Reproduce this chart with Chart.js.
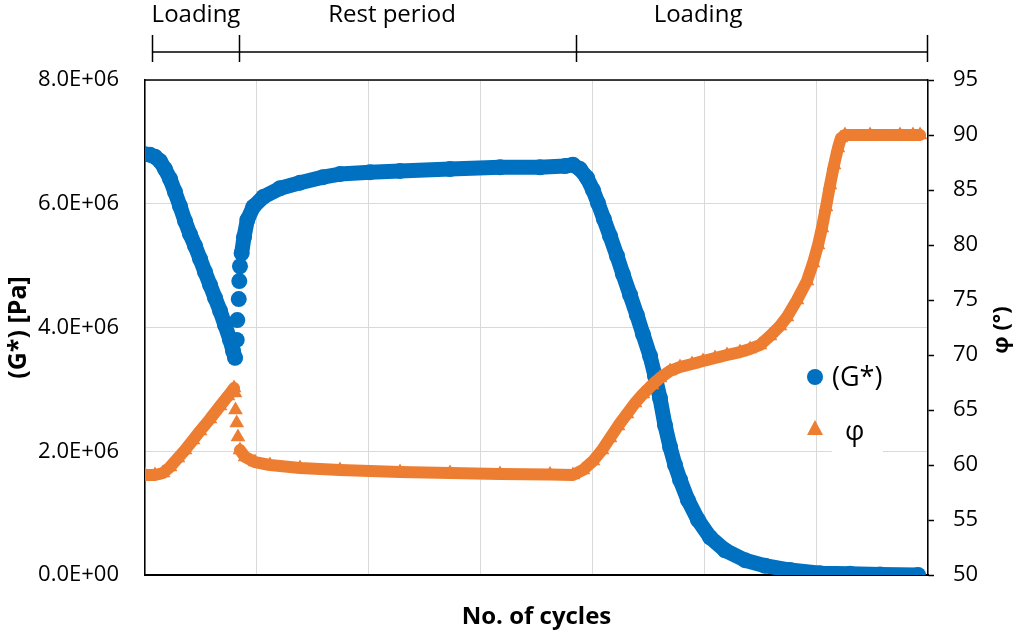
<!DOCTYPE html>
<html>
<head>
<meta charset="utf-8">
<script src="https://cdn.jsdelivr.net/npm/chart.js@4.4.1/dist/chart.umd.min.js"></script>
<style>
  html, body { margin: 0; padding: 0; background: #fff; }
</style>
</head>
<body>
<canvas id="rheoChart" width="1017" height="632"></canvas>
<script>
// (G*) en Pa por ciclo
const gCycles = [0, 4.5, 8.9, 13.4, 17.9, 22.4, 26.8, 31.3, 35.8, 40.2, 44.7, 49.2, 53.6, 58.1, 62.6, 67.1, 71.5, 76.0, 78.7, 80.5,
  82.0, 82.5, 83.8, 84.3, 84.9,
  86.4, 88.5, 91.5, 96.8, 105.8, 120.7, 138.6, 159.1, 174.3, 201.2, 228.0, 272.7, 317.4, 353.1, 375.5, 382.6,
  388.9, 395.1, 400.5, 405.0, 410.3, 415.7, 421.9, 427.3, 433.6, 439.8, 445.2, 451.5, 455.9, 460.4, 464.9, 469.4, 473.8, 478.3,
  485.4, 494.4, 505.1, 518.5, 536.4, 554.3, 576.6, 603.5, 630.3, 657.1, 691.1];
const gValues = [6.80e6, 6.79e6, 6.76e6, 6.69e6, 6.56e6, 6.40e6, 6.19e6, 5.96e6, 5.72e6, 5.51e6, 5.32e6, 5.11e6, 4.90e6, 4.69e6, 4.48e6, 4.27e6, 4.04e6, 3.80e6, 3.62e6, 3.51e6,
  3.80e6, 4.12e6, 4.46e6, 4.75e6, 4.99e6,
  5.20e6, 5.46e6, 5.74e6, 5.95e6, 6.11e6, 6.25e6, 6.34e6, 6.43e6, 6.48e6, 6.51e6, 6.53e6, 6.56e6, 6.59e6, 6.59e6, 6.61e6, 6.63e6,
  6.56e6, 6.42e6, 6.22e6, 6.01e6, 5.75e6, 5.48e6, 5.16e6, 4.86e6, 4.53e6, 4.20e6, 3.89e6, 3.54e6, 3.22e6, 2.86e6, 2.42e6, 2.07e6, 1.78e6, 1.54e6,
  1.21e6, 0.89e6, 0.61e6, 0.40e6, 0.24e6, 0.15e6, 0.08e6, 0.03e6, 0.02e6, 0.01e6, 0];
// puntos sueltos al inicio del reposo (sin linea entre ellos)
const gLooseRun = [19, 24];

// angulo de fase en grados
const phiCycles = [0, 8.9, 16.1, 22.4, 29.5, 35.8, 42.9, 49.2, 58.1, 67.1, 74.2, 79.6,
  80.5, 80.9, 82.0, 83.1, 84.9,
  89.4, 98.3, 111.7, 138.6, 174.3, 228.0, 272.7, 317.4, 362.1, 382.6,
  391.6, 400.5, 408.6, 415.7, 422.9, 430.9, 438.1, 445.2, 453.3, 460.4, 469.4, 478.3, 489.0, 498.9, 509.6, 520.3, 531.9, 540.9,
  549.8, 558.8, 567.7, 573.9, 582.9, 591.8, 597.2, 601.7, 605.2, 608.8, 612.4, 616.0, 619.5, 622.2, 625.8, 648.2, 675.0, 686.6, 692.9];
const phiValues = [59.09, 59.09, 59.27, 59.82, 60.64, 61.36, 62.27, 63.09, 64.18, 65.36, 66.27, 67.00,
  66.55, 65.00, 63.82, 62.55, 61.36,
  60.73, 60.27, 60.00, 59.73, 59.55, 59.36, 59.27, 59.18, 59.14, 59.09,
  59.55, 60.36, 61.36, 62.45, 63.55, 64.64, 65.64, 66.45, 67.27, 67.91, 68.55, 68.91, 69.18, 69.45, 69.73, 70.00, 70.27, 70.55,
  70.91, 71.73, 72.64, 73.45, 75.00, 76.73, 78.36, 80.00, 81.55, 83.45, 85.45, 87.27, 88.82, 89.73, 90.00, 90.00, 90.00, 90.00, 90.00];
const phiLooseRun = [11, 15];

const gTickLabels = ['0.0E+00', '2.0E+06', '4.0E+06', '6.0E+06', '8.0E+06'];
const phiTickLabels = ['50', '55', '60', '65', '70', '75', '80', '85', '90', '95'];

// fases del ensayo (en ciclos)
const phaseNames = ['Loading', 'Rest period', 'Loading'];
const phaseBounds = [6, 84, 385, 699];
const phaseLabelAt = [45.6, 220.8, 494.4];

const FONT = '"Open Sans", sans-serif';
const BLUE = '#0070C0';
const ORANGE = '#ED7D31';

Chart.defaults.font.family = FONT;
Chart.defaults.color = '#000';

const toPoints = (xs, ys) => xs.map((x, i) => ({ x: x, y: ys[i] }));
const hideRun = run => ctx => (ctx.p0DataIndex >= run[0] && ctx.p0DataIndex <= run[1]) ? 'rgba(0,0,0,0)' : undefined;

const extras = {
    id: 'extras',
    beforeDatasetsDraw(chart) {
        const { ctx, chartArea } = chart;
        // marco superior
        ctx.save();
        ctx.strokeStyle = '#000';
        ctx.lineWidth = 1.5;
        ctx.beginPath();
        ctx.moveTo(chartArea.left, chartArea.top);
        ctx.lineTo(chartArea.right, chartArea.top);
        ctx.stroke();
        ctx.restore();
    },
    afterDraw(chart) {
        const { ctx } = chart;
        const xs = chart.scales.x;
        ctx.save();
        // corchetes de fases
        ctx.strokeStyle = '#000';
        ctx.lineWidth = 1.5;
        ctx.beginPath();
        ctx.moveTo(xs.getPixelForValue(phaseBounds[0]), 52);
        ctx.lineTo(xs.getPixelForValue(phaseBounds[phaseBounds.length - 1]), 52);
        phaseBounds.forEach(b => {
            const px = Math.round(xs.getPixelForValue(b)) + 0.5;
            ctx.moveTo(px, 35);
            ctx.lineTo(px, 62);
        });
        ctx.stroke();
        ctx.fillStyle = '#000';
        ctx.font = '24px ' + FONT;
        ctx.textAlign = 'center';
        ctx.textBaseline = 'middle';
        phaseNames.forEach((n, i) => ctx.fillText(n, xs.getPixelForValue(phaseLabelAt[i]), 15));

        // titulo eje derecho
        ctx.save();
        ctx.translate(1002, 330);
        ctx.rotate(-Math.PI / 2);
        ctx.font = 'bold 22px ' + FONT;
        ctx.fillText('φ (°)', 0, 0);
        ctx.restore();

        // leyenda
        ctx.fillStyle = '#fff';
        ctx.fillRect(832, 406, 51, 47);
        ctx.fillStyle = BLUE;
        ctx.beginPath();
        ctx.arc(815, 377, 8, 0, Math.PI * 2);
        ctx.fill();
        ctx.fillStyle = ORANGE;
        ctx.beginPath();
        ctx.moveTo(815, 420);
        ctx.lineTo(823, 435);
        ctx.lineTo(807, 435);
        ctx.closePath();
        ctx.fill();
        ctx.fillStyle = '#000';
        ctx.textAlign = 'left';
        ctx.font = '27px ' + FONT;
        ctx.fillText('(G*)', 832, 378);
        ctx.fillText('φ', 845, 432);
        ctx.restore();
    }
};

const rheoCtx = document.getElementById('rheoChart').getContext('2d');
new Chart(rheoCtx, {
    type: 'scatter',
    data: {
        datasets: [{
            label: '(G*)',
            data: toPoints(gCycles, gValues),
            yAxisID: 'y',
            order: 2,
            showLine: true,
            borderColor: BLUE,
            borderWidth: 15,
            borderCapStyle: 'round',
            borderJoinStyle: 'round',
            segment: { borderColor: hideRun(gLooseRun) },
            pointStyle: 'circle',
            pointRadius: 8,
            pointHoverRadius: 8,
            pointBorderWidth: 0,
            backgroundColor: BLUE
        }, {
            label: 'φ',
            data: toPoints(phiCycles, phiValues),
            yAxisID: 'y1',
            order: 1,
            showLine: true,
            borderColor: ORANGE,
            borderWidth: 12,
            borderCapStyle: 'round',
            borderJoinStyle: 'round',
            segment: { borderColor: hideRun(phiLooseRun) },
            pointStyle: 'triangle',
            pointRadius: 8.5,
            pointHoverRadius: 8.5,
            pointBorderWidth: 0,
            backgroundColor: ORANGE
        }]
    },
    options: {
        responsive: false,
        animation: false,
        devicePixelRatio: 1,
        layout: { padding: { top: 80, left: 0, right: 0, bottom: 0 } },
        plugins: { legend: { display: false }, tooltip: { enabled: false } },
        scales: {
            x: {
                type: 'linear', min: 0, max: 700,
                ticks: { stepSize: 100, display: false },
                grid: { color: '#d9d9d9', drawTicks: false },
                border: { color: '#000', width: 2 },
                title: { display: true, text: 'No. of cycles', color: '#000', font: { size: 24, weight: 'bold' }, padding: { top: 0, bottom: 0 } },
                afterFit: s => { s.height = 57; }
            },
            y: {
                position: 'left', min: 0, max: 8e6,
                ticks: { stepSize: 2e6, callback: (v, i) => gTickLabels[i], color: '#000', font: { size: 22 }, padding: 26 },
                grid: { color: '#d9d9d9', drawTicks: false },
                border: { color: '#000', width: 1.5 },
                title: { display: true, text: '(G*) [Pa]', color: '#000', font: { size: 25, weight: 'bold' }, padding: { top: 4, bottom: 0 } },
                afterFit: s => { s.width = 145; }
            },
            y1: {
                position: 'right', min: 50, max: 95,
                ticks: { stepSize: 5, callback: (v, i) => phiTickLabels[i], color: '#000', font: { size: 22 }, padding: 19 },
                grid: { drawOnChartArea: false, drawTicks: true, tickLength: 6, tickColor: '#000', tickWidth: 1.5 },
                border: { color: '#000', width: 1.5 },
                afterFit: s => { s.width = 89; }
            }
        }
    },
    plugins: [extras]
});
</script>
</body>
</html>
